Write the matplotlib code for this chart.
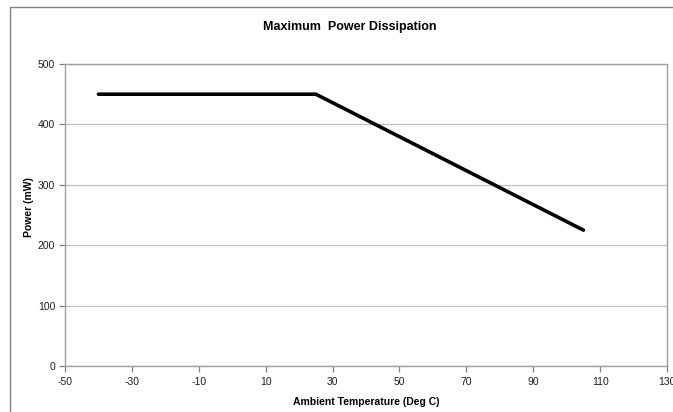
import matplotlib
matplotlib.use("Agg")
import matplotlib.pyplot as plt
from matplotlib.patches import Rectangle

temps = [-40, 25, 105]
power = [450, 450, 225]
xticks = [-50, -30, -10, 10, 30, 50, 70, 90, 110, 130]
yticks = [0, 100, 200, 300, 400, 500]

plt.rcParams['font.family'] = ['Liberation Sans', 'DejaVu Sans']
plt.rcParams['axes.unicode_minus'] = False

W, H = 673, 412
fig = plt.figure(figsize=(W/100, H/100), dpi=100)
fig.patch.set_facecolor('white')

# chart border
fig.add_artist(Rectangle((10/W, -0.1), 1.2, 1 - 7/H + 0.1, transform=fig.transFigure,
                         fill=False, edgecolor='#808080', linewidth=1.0))

ax = fig.add_axes([65/W, 1 - 366/H, (667-65)/W, (366-64)/H])
ax.plot(temps, power, color='black', linewidth=2.6, solid_capstyle='round')
ax.set_xlim(-50, 130)
ax.set_ylim(0, 500)
ax.set_xticks(xticks)
ax.set_yticks(yticks)
ax.set_xticklabels([str(v) for v in xticks])
ax.yaxis.grid(True, color='#c0c0c0', linewidth=0.9)
ax.set_axisbelow(True)
for s in ax.spines.values():
    s.set_color('#a0a0a0')
    s.set_linewidth(1.0)
ax.tick_params(axis='both', colors='#808080', labelcolor='#202020', labelsize=7.5,
               length=4, width=0.9, direction='out')
ax.tick_params(axis='x', pad=4)
ax.tick_params(axis='y', pad=3)

fig.text(350/W, 1 - 27/H, 'Maximum  Power Dissipation', ha='center', va='center',
         fontsize=9, fontweight='bold')
fig.text(366/W, 1 - 402/H, 'Ambient Temperature (Deg C)', ha='center', va='center',
         fontsize=7.5, fontweight='bold')
fig.text(29/W, 1 - 207/H, 'Power (mW)', ha='center', va='center', rotation=90,
         fontsize=7.5, fontweight='bold')

fig.savefig('out.png', dpi=100)
